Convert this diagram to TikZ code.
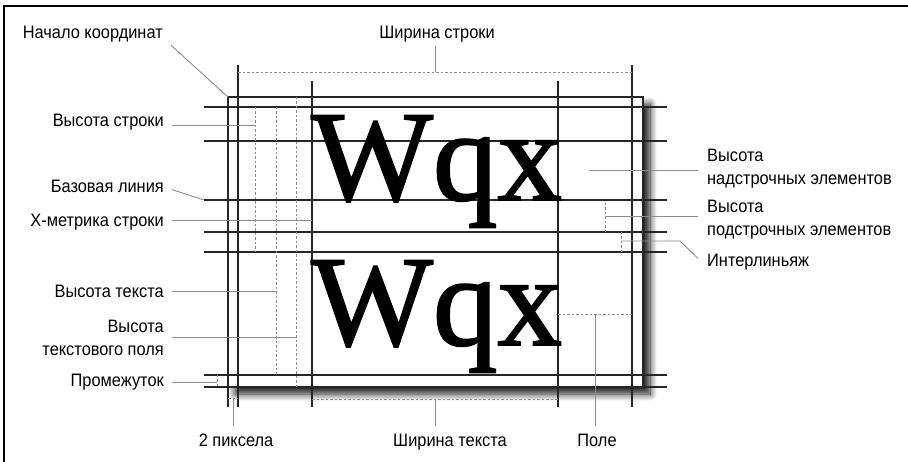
\documentclass[tikz,border=0pt]{standalone}
\usepackage{fontspec}
\setmainfont{Liberation Sans}[FakeStretch=0.91]
\newfontfamily\glyphfont{Liberation Serif}[FakeBold=1.5]
\usetikzlibrary{shadows.blur}

\begin{document}
\begin{tikzpicture}
 [x=1pt, y=-1pt,
  rule line/.style={line width=1.3pt, black!85},
  guide/.style={line width=0.9pt, black!45},
  measure/.style={line width=0.9pt, black!45, dash pattern=on 2.5pt off 2pt},
  left tag/.style={anchor=base east, inner xsep=8pt, inner ysep=3pt, font=\fontsize{18}{23}\selectfont, align=right},
  right tag/.style={anchor=west, inner xsep=9pt, font=\fontsize{18}{23}\selectfont, align=left},
  bottom tag/.style={anchor=base, inner ysep=8pt, font=\fontsize{18}{23}\selectfont},
  big glyphs/.style={anchor=base west, inner sep=0pt, font=\glyphfont\fontsize{129}{129}\selectfont},
  sheet/.style={fill=white, blur shadow={shadow xshift=7pt, shadow yshift=-7pt, shadow blur radius=7pt, shadow blur steps=12, shadow opacity=90}}]

\useasboundingbox (0,0) rectangle (908,462);
\draw[line width=1.5pt] (4,462) -- (4,6) -- (908,6);

% the page
\path[sheet] (228,97) rectangle (643,387);
\draw[rule line] (228,97) -- (643,97) -- (643,387);

\foreach \y in {107,141,200,232,252,375,387}
  \draw[rule line] (204,\y) -- (667,\y);
\foreach \x/\a in {228/97, 238/65, 312/81, 558/81, 632/65}
  \draw[rule line] (\x,\a) -- (\x,407);

\node[big glyphs] (row1) at (311,200) {Wqx};
\node[big glyphs] (row2) at (311,345) {Wqx};

% measuring points
\coordinate (origin) at (228,97);
\coordinate (lw) at (435,72);
\coordinate (lh) at (255,125);
\coordinate (bl) at (204,200);
\coordinate (xh) at (312,220);
\coordinate (th) at (276,291);
\coordinate (fh) at (296,337);
\coordinate (gap) at (217,382);
\coordinate (px) at (233,398);
\coordinate (tw) at (435,399);
\coordinate (mg) at (595,314);
\coordinate (asc) at (589,170);
\coordinate (desc) at (605,216);
\coordinate (lead) at (621,241);
\coordinate (bend) at (680,241);

\draw[measure] (238,72) -- (632,72);
\draw[measure] (255,107) -- (255,252);
\draw[measure] (276,107) -- (276,375);
\draw[measure] (296,97) -- (296,387);
\draw[measure] (605,203) -- (605,232);
\draw[measure] (621,232) -- (621,252);
\draw[measure] (217,375) -- (217,387);
\draw[measure] (228,398) -- (238,398);
\draw[measure] (312,399) -- (558,399);
\draw[measure] (558,314) -- (632,314);

% labels
\node[left tag] (origin lbl) at (171,38.3) {Начало координат};
\node[left tag] (lh lbl) at (172,126.7) {Высота строки};
\node[left tag] (bl lbl) at (172,192.7) {Базовая линия};
\node[left tag] (xh lbl) at (172,226.7) {Х-метрика строки};
\node[left tag] (th lbl) at (172,297.3) {Высота текста};
\node[left tag, anchor=east] (fh lbl) at (172,338) {Высота\\текстового поля};
\node[left tag] (gap lbl) at (172,386.7) {Промежуток};
\node[bottom tag, inner ysep=4pt] (lw lbl) at (437,38.3) {Ширина строки};
\node[bottom tag] (px lbl) at (236,446.7) {2 пиксела};
\node[bottom tag] (tw lbl) at (450,446.7) {Ширина текста};
\node[bottom tag] (mg lbl) at (597,446.7) {Поле};
\node[right tag] (asc lbl) at (698,169) {Высота\\надстрочных элементов};
\node[right tag] (desc lbl) at (698,220) {Высота\\подстрочных элементов};
\node[right tag, anchor=base west] (lead lbl) at (698,266.7) {Интерлиньяж};

% leaders
\draw[guide] (origin lbl.south east) -- (origin);
\draw[guide] (lw) -- (lw |- lw lbl.south);
\draw[guide] (lh lbl.east |- lh) -- (lh);
\draw[guide] ([yshift=-3pt]bl lbl.east) -- (bl);
\draw[guide] (xh lbl.east |- xh) -- (xh);
\draw[guide] (th lbl.east |- th) -- (th);
\draw[guide] (fh lbl.east |- fh) -- (fh);
\draw[guide] (gap lbl.east |- gap) -- (gap);
\draw[guide] (px) -- (px |- px lbl.north);
\draw[guide] (tw) -- (tw |- tw lbl.north);
\draw[guide] (mg) -- (mg |- mg lbl.north);
\draw[guide] (asc) -- (asc -| asc lbl.west);
\draw[guide] (desc) -- (desc -| desc lbl.west);
\draw[guide] (lead) -- (bend) -- ([yshift=4pt]lead lbl.west);

\end{tikzpicture}
\end{document}
